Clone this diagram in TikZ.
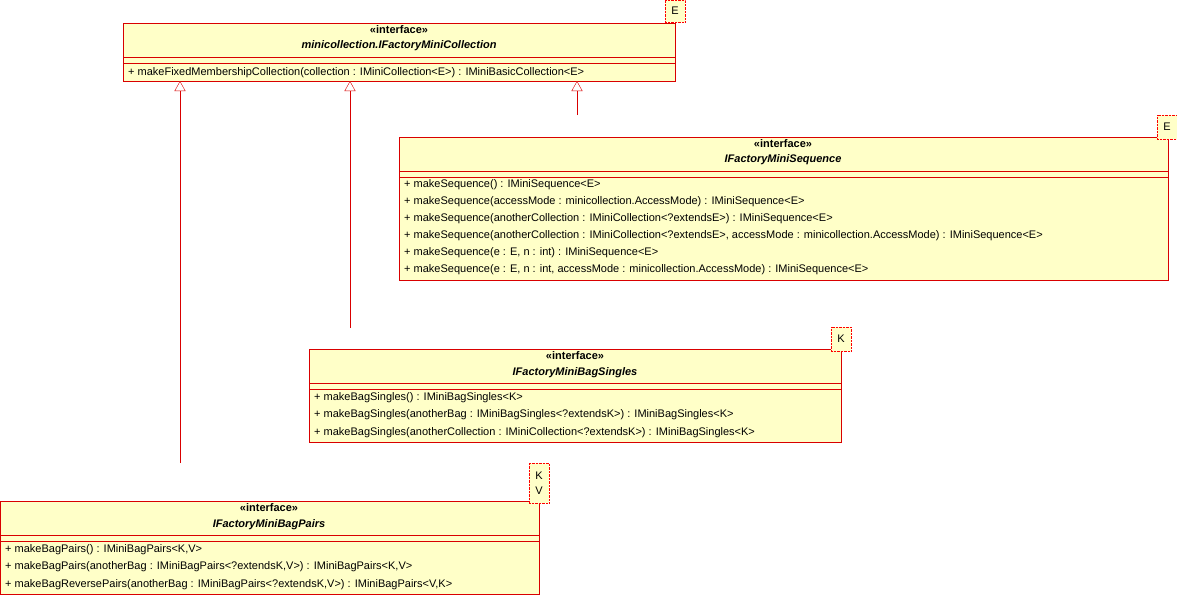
\documentclass[tikz,border=0pt]{standalone}
\usepackage{fontspec}
\setmainfont{Liberation Sans}
\begin{document}
\begin{tikzpicture}[x=1pt,y=-1pt,
  box/.style={draw=red!85!black,fill={rgb,255:red,255;green,255;blue,200}},
  tmpl/.style={draw=red,densely dotted,fill={rgb,255:red,255;green,255;blue,200}},
  ln/.style={red!85!black},
  txt/.style={font=\fontsize{11}{13}\selectfont,inner sep=0pt,anchor=west},
  ttl/.style={font=\fontsize{11}{13}\selectfont\bfseries,inner sep=0pt},
  gen/.style={red!85!black,-{Triangle[open,length=10pt,width=11pt,fill=white]}}]
\usetikzlibrary{arrows.meta}
\useasboundingbox (0,0) rectangle (1177,594);
% top box
\draw[box] (123,23) rectangle (675,81);
\node[tmpl,minimum width=20pt,minimum height=22pt,inner sep=0pt,font=\fontsize{11}{13}\selectfont] (tE) at (675,11) {E};
\node[ttl] (t1) at (399,30) {«interface»};
\node[ttl,font=\fontsize{11}{13}\selectfont\bfseries\itshape] (t2) at (399,46) {minicollection.IFactoryMiniCollection};
\draw[ln] (123,57)--(675,57) (123,63)--(675,63);
\node[txt] (m1) at (128,73) {+ makeFixedMembershipCollection(collection : IMiniCollection<E>) : IMiniBasicCollection<E>};
\coordinate (a1) at (180,81); \coordinate (a2) at (350,81); \coordinate (a3) at (577,81);
% sequence
\draw[box] (399,137) rectangle (1168,280);
\node[tmpl,minimum width=20pt,minimum height=24pt,inner sep=0pt,font=\fontsize{11}{13}\selectfont] (sE) at (1167,127) {E};
\node[ttl] (s1) at (783,144) {«interface»};
\node[ttl,font=\fontsize{11}{13}\selectfont\bfseries\itshape] (s2) at (783,160) {IFactoryMiniSequence};
\draw[ln] (399,171)--(1168,171) (399,177)--(1168,177);
\foreach \t [count=\i] in {
 {+ makeSequence() : IMiniSequence<E>},
 {+ makeSequence(accessMode : minicollection.AccessMode) : IMiniSequence<E>},
 {+ makeSequence(anotherCollection : IMiniCollection<?extendsE>) : IMiniSequence<E>},
 {+ makeSequence(anotherCollection : IMiniCollection<?extendsE>, accessMode : minicollection.AccessMode) : IMiniSequence<E>},
 {+ makeSequence(e : E, n : int) : IMiniSequence<E>},
 {+ makeSequence(e : E, n : int, accessMode : minicollection.AccessMode) : IMiniSequence<E>}}
 \node[txt] (sm\i) at (404,168+17*\i) {\t};
\coordinate (b3) at (577,115);
% bag singles
\draw[box] (309,349) rectangle (841,442);
\node[tmpl,minimum width=20pt,minimum height=24pt,inner sep=0pt,font=\fontsize{11}{13}\selectfont] (kE) at (841,339) {K};
\node[ttl] (k1) at (575,356) {«interface»};
\node[ttl,font=\fontsize{11}{13}\selectfont\bfseries\itshape] (k2) at (575,373) {IFactoryMiniBagSingles};
\draw[ln] (309,383)--(841,383) (309,389)--(841,389);
\foreach \t [count=\i] in {
 {+ makeBagSingles() : IMiniBagSingles<K>},
 {+ makeBagSingles(anotherBag : IMiniBagSingles<?extendsK>) : IMiniBagSingles<K>},
 {+ makeBagSingles(anotherCollection : IMiniCollection<?extendsK>) : IMiniBagSingles<K>}}
 \node[txt] (km\i) at (314,380+17.5*\i) {\t};
\coordinate (b2) at (350,328);
% bag pairs
\draw[box] (0,501) rectangle (539,594);
\node[tmpl,minimum width=20pt,minimum height=40pt,inner sep=0pt,align=center,font=\fontsize{11}{15}\selectfont] (pE) at (539,483) {K\\V};
\node[ttl] (p1) at (269,508) {«interface»};
\node[ttl,font=\fontsize{11}{13}\selectfont\bfseries\itshape] (p2) at (269,525) {IFactoryMiniBagPairs};
\draw[ln] (0,535)--(539,535) (0,541)--(539,541);
\foreach \t [count=\i] in {
 {+ makeBagPairs() : IMiniBagPairs<K,V>},
 {+ makeBagPairs(anotherBag : IMiniBagPairs<?extendsK,V>) : IMiniBagPairs<K,V>},
 {+ makeBagReversePairs(anotherBag : IMiniBagPairs<?extendsK,V>) : IMiniBagPairs<V,K>}}
 \node[txt] (pm\i) at (5,532+17.5*\i) {\t};
\coordinate (b1) at (180,463);
\draw[gen] (b1)--(a1);
\draw[gen] (b2)--(a2);
\draw[gen] (b3)--(a3);
\end{tikzpicture}
\end{document}
